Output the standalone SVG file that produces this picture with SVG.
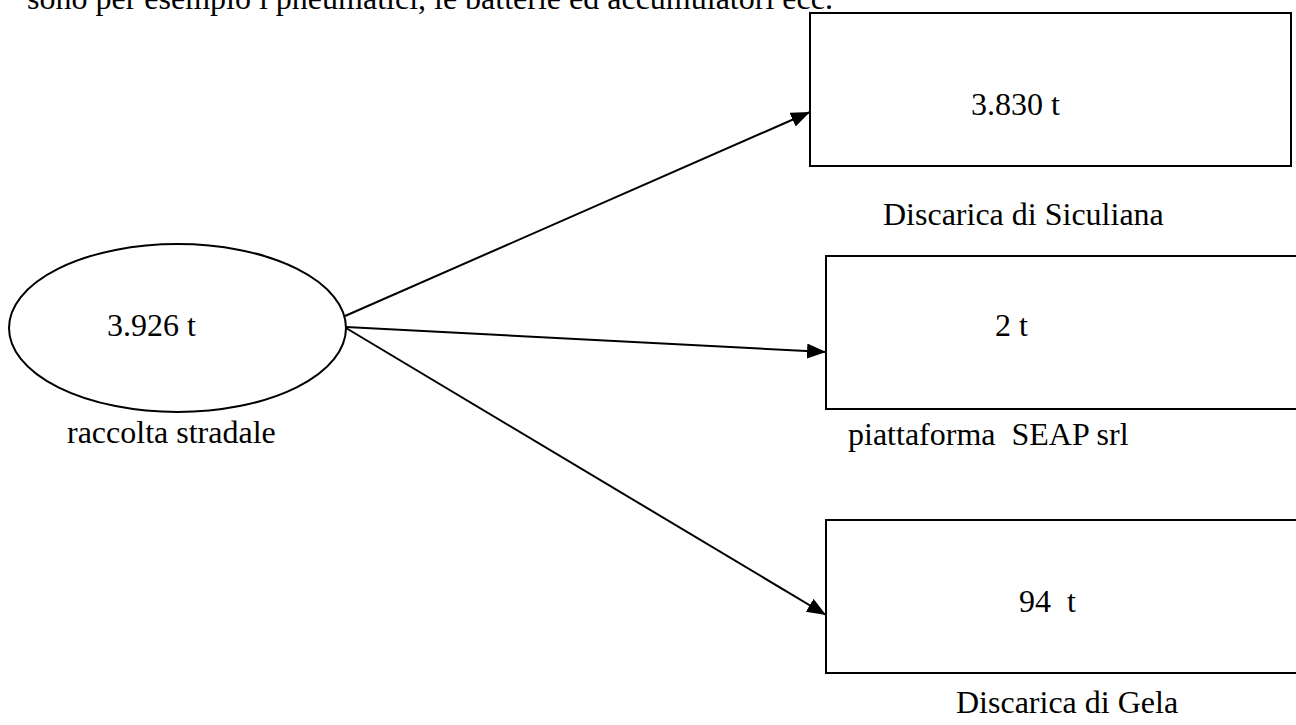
<svg xmlns="http://www.w3.org/2000/svg" width="1296" height="725" viewBox="0 0 1296 725">
  <style>
    text { font-family: "Liberation Serif", "Times New Roman", serif; font-size: 32px; fill: #000; white-space: pre; }
    .box { fill: #fff; stroke: #000; stroke-width: 2; }
    .edge { stroke: #000; stroke-width: 2; fill: none; }
  </style>
  <defs>
    <marker id="arrow" markerUnits="userSpaceOnUse" markerWidth="20" markerHeight="16" refX="19" refY="7.5" orient="auto">
      <path d="M0,0 L19,7.5 L0,15 Z" fill="#000"/>
    </marker>
  </defs>
  <rect width="1296" height="725" fill="#fff"/>

  <!-- running text line above the figure -->
  <text x="27" y="9">sono per esempio i pneumatici, le batterie ed accumulatori ecc.</text>

  <!-- source node -->
  <g id="raccolta">
    <ellipse class="box" cx="177.5" cy="328" rx="168.5" ry="84"/>
    <text x="107" y="336">3.926 t</text>
    <text x="67" y="443">raccolta stradale</text>
  </g>

  <!-- destination nodes -->
  <g id="siculiana">
    <rect class="box" x="810" y="13" width="481" height="153"/>
    <text x="971" y="115">3.830 t</text>
    <text x="883" y="225">Discarica di Siculiana</text>
  </g>

  <g id="seap">
    <rect class="box" x="826" y="256" width="480" height="153"/>
    <text x="995" y="336">2 t</text>
    <text x="848" y="445">piattaforma  SEAP srl</text>
  </g>

  <g id="gela">
    <rect class="box" x="826" y="520" width="480" height="153"/>
    <text x="1019" y="612">94  t</text>
    <text x="956" y="713">Discarica di Gela</text>
  </g>

  <!-- flows -->
  <g id="connectors">
    <line class="edge" x1="345" y1="316" x2="810" y2="112" marker-end="url(#arrow)"/>
    <line class="edge" x1="346" y1="327" x2="826" y2="352" marker-end="url(#arrow)"/>
    <line class="edge" x1="346" y1="328" x2="826" y2="615" marker-end="url(#arrow)"/>
  </g>
</svg>
